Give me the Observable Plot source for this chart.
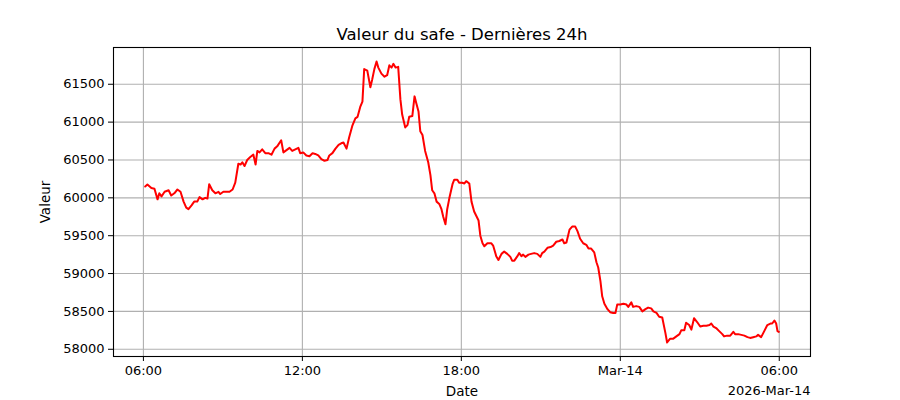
<!DOCTYPE html>
<html>
<head>
<meta charset="utf-8">
<script src="https://cdn.jsdelivr.net/npm/d3@7"></script>
<script src="https://cdn.jsdelivr.net/npm/@observablehq/plot@0.6"></script>
<style>
  html, body { margin: 0; padding: 0; background: #fff; }
  #chart svg { display: block; }
</style>
</head>
<body>
<div id="chart"></div>
<script>
const title = "Valeur du safe - Dernières 24h";
const xLabel = "Date";
const yLabel = "Valeur";
const offsetLabel = "2026-Mar-14";
const startTime = "2026-03-13T06:00:00Z";
const yTicks = [58000, 58500, 59000, 59500, 60000, 60500, 61000, 61500];

// minutes elapsed since startTime
const minutes = [4,9,18,25,32,36,41,48,57,63,70,77,84,91,97,102,109,115,122,127,134,140,145,149,156,163,170,174,181,195,202,208,215,220,224,229,235,242,249,254,258,263,269,276,283,290,297,303,312,317,324,331,337,344,351,355,362,369,376,383,389,396,403,410,417,421,428,435,442,448,453,460,466,473,480,485,491,496,500,507,514,518,523,528,532,539,546,552,557,562,566,571,577,582,586,593,598,602,609,614,618,623,627,632,638,645,650,654,659,664,670,675,679,684,688,693,700,704,711,715,722,727,731,738,743,749,754,759,763,768,772,779,788,792,799,804,811,817,824,831,835,840,847,851,856,860,865,872,878,885,892,899,903,908,915,922,928,935,942,949,953,958,965,971,978,983,989,996,1003,1008,1014,1021,1026,1030,1035,1039,1044,1051,1057,1064,1069,1073,1080,1087,1094,1098,1105,1109,1116,1123,1130,1137,1143,1150,1155,1162,1168,1175,1182,1186,1193,1200,1207,1214,1218,1225,1229,1236,1241,1247,1254,1261,1268,1275,1282,1286,1291,1297,1304,1311,1315,1322,1329,1336,1340,1347,1354,1361,1368,1374,1381,1388,1392,1399,1406,1413,1420,1424,1429,1433,1436,1439];

const values = [60150,60175,60130,60120,59980,60060,60020,60080,60100,60030,
60060,60110,60080,59950,59870,59850,59900,59950,59950,60010,
59980,60000,59990,60180,60100,60060,60080,60050,60080,60080,
60110,60200,60450,60440,60470,60420,60500,60540,60570,60440,
60620,60600,60640,60590,60590,60570,60650,60680,60760,60600,
60630,60660,60620,60640,60660,60590,60600,60560,60550,60590,
60580,60560,60510,60490,60500,60560,60590,60650,60700,60720,
60730,60650,60800,60950,61050,61070,61200,61270,61700,61680,
61460,61560,61700,61800,61720,61640,61600,61620,61750,61720,
61770,61720,61730,61300,61100,60930,60960,61070,61080,61340,
61250,61140,60880,60830,60620,60470,60300,60100,60060,59950,
59920,59850,59750,59650,59850,60000,60180,60240,60240,60200,
60200,60190,60220,60190,59950,59820,59760,59700,59500,59400,
59360,59400,59400,59370,59230,59180,59260,59290,59260,59220,
59170,59170,59230,59270,59230,59250,59220,59250,59260,59270,
59260,59220,59270,59290,59340,59350,59370,59420,59430,59450,
59400,59410,59580,59620,59620,59560,59460,59400,59380,59330,
59330,59280,59150,59080,58900,58700,58600,58530,58490,58480,
58480,58590,58590,58600,58590,58560,58620,58560,58570,58560,
58500,58530,58550,58540,58500,58480,58430,58420,58220,58090,
58140,58140,58170,58200,58250,58250,58350,58320,58260,58410,
58360,58300,58310,58310,58320,58340,58300,58280,58240,58200,
58170,58180,58180,58230,58200,58200,58190,58180,58160,58150,
58160,58170,58190,58160,58240,58320,58340,58340,58380,58340,
58240,58230];

const t0 = new Date(startTime).getTime();
const n = Math.min(minutes.length, values.length);
const data = d3.range(n).map(i => ({date: new Date(t0 + minutes[i] * 60000), value: values[i]}));

// matplotlib-like 5% margins
const [xmin, xmax] = d3.extent(data, d => d.date.getTime());
const xpad = (xmax - xmin) * 0.05;
const xDomain = [new Date(xmin - xpad), new Date(xmax + xpad)];
const [ymin, ymax] = d3.extent(data, d => d.value);
const ypad = (ymax - ymin) * 0.05;
const yDomain = [ymin - ypad, ymax + ypad];

const xTicks = d3.utcHour.every(6).range(xDomain[0], xDomain[1]);
const fmtTick = d => d.getUTCHours() === 0 && d.getUTCMinutes() === 0
  ? d3.utcFormat("%b-%d")(d) : d3.utcFormat("%H:%M")(d);

const chart = Plot.plot({
  width: 900,
  height: 400,
  marginLeft: 113,
  marginRight: 90,
  marginTop: 47,
  marginBottom: 44,
  style: {fontFamily: "'DejaVu Sans', sans-serif", fontSize: "13px", background: "#fff", color: "#000"},
  x: {type: "utc", domain: xDomain, label: null},
  y: {domain: yDomain, label: null},
  marks: [
    Plot.gridX(xTicks, {stroke: "#b0b0b0", strokeOpacity: 1, strokeWidth: 1.1}),
    Plot.gridY(yTicks, {stroke: "#b0b0b0", strokeOpacity: 1, strokeWidth: 1.1}),
    Plot.axisX(xTicks, {tickFormat: fmtTick, tickSize: 5, tickPadding: 4, label: null, fontSize: 13}),
    Plot.axisY(yTicks, {tickFormat: d => String(d), tickSize: 5, tickPadding: 4, label: null, fontSize: 13}),
    Plot.line(data, {x: "date", y: "value", stroke: "red", strokeWidth: 2}),
    Plot.frame({stroke: "#000", strokeWidth: 1.1}),
    Plot.text([title], {text: d => d, frameAnchor: "top", dy: -13, lineAnchor: "middle", textAnchor: "middle", fontSize: 16.5, fill: "#000"}),
    Plot.text([xLabel], {text: d => d, frameAnchor: "bottom", dy: 35, lineAnchor: "middle", textAnchor: "middle", fontSize: 13.5, fill: "#000"}),
    Plot.text([offsetLabel], {text: d => d, frameAnchor: "bottom-right", dy: 34, lineAnchor: "middle", textAnchor: "end", fontSize: 13, fill: "#000"}),
    Plot.text([yLabel], {text: d => d, frameAnchor: "left", dx: -68, rotate: -90, lineAnchor: "middle", textAnchor: "middle", fontSize: 13.5, fill: "#000"})
  ]
});
document.getElementById("chart").appendChild(chart);
</script>
</body>
</html>
